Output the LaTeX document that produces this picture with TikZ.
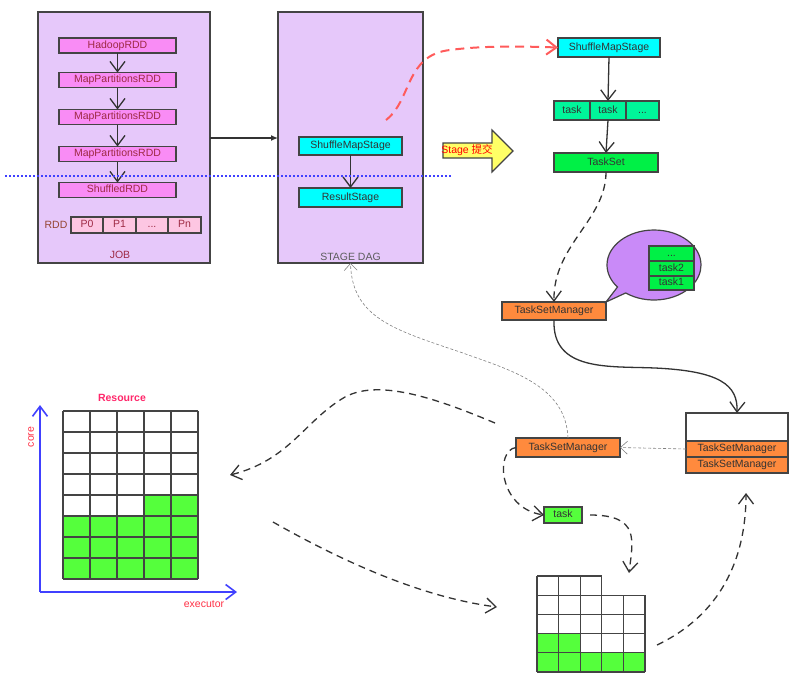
\documentclass[tikz,border=0pt]{standalone}
\usepackage{fontspec}
\setmainfont{Liberation Sans}
\newfontfamily\cjkfont{Noto Sans CJK SC}
\usepackage{xcolor}
\usetikzlibrary{arrows.meta,positioning,shapes.geometric,shapes.callouts}

\definecolor{edge}{HTML}{444444}
\definecolor{darktext}{HTML}{333333}
\definecolor{jobfill}{HTML}{E6C8FA}
\definecolor{rddfill}{HTML}{F98CF5}
\definecolor{rddtext}{HTML}{9E2A44}
\definecolor{partfill}{HTML}{FDC6E2}
\definecolor{stagefill}{HTML}{00FFFF}
\definecolor{taskfill}{HTML}{00F59A}
\definecolor{setfill}{HTML}{00F046}
\definecolor{tsmfill}{HTML}{FF8A3D}
\definecolor{bubblefill}{HTML}{C98AF8}
\definecolor{slotfill}{HTML}{55FF3C}
\definecolor{axisblue}{HTML}{4040FF}
\definecolor{labelred}{HTML}{FF3045}
\definecolor{dashred}{HTML}{FF5B5B}
\definecolor{arrowyellow}{HTML}{FFFF66}

\tikzset{
  box/.style={draw=edge, line width=1.2pt, inner sep=0pt, outer sep=0pt, text=darktext,
    font=\fontsize{10.5}{12}\selectfont, text height=7.6pt, text depth=2.2pt},
  bigbox/.style={box, fill=jobfill, minimum width=172pt, minimum height=251pt},
  rdd/.style={box, fill=rddfill, text=rddtext, minimum width=117pt, minimum height=15pt},
  part/.style={box, fill=partfill, text=rddtext, minimum height=16pt},
  stage/.style={box, fill=stagefill, minimum width=103pt, minimum height=18pt},
  tsm/.style={box, fill=tsmfill, minimum width=104pt, minimum height=18pt},
  tasknode/.style={box, fill=taskfill, minimum height=19pt},
  greenbox/.style={box, fill=setfill},
  lbl/.style={inner sep=0pt, font=\fontsize{10.5}{12}\selectfont},
  vtip/.style={-{Straight Barb[length=10pt,width=15pt]}},
  flow/.style={vtip, line width=1.3pt, draw=darktext},
  dflow/.style={vtip, line width=1.3pt, draw=darktext, dash pattern=on 7pt off 5pt},
  thin gray/.style={-{Straight Barb[length=7pt,width=13pt]}, line width=0.6pt, draw=gray, dash pattern=on 3pt off 2pt},
  cell/.style={draw=edge, line width=1.3pt},
}

\begin{document}
\begin{tikzpicture}[x=1pt,y=-1pt]
	\useasboundingbox (0,0) rectangle (800,673);
	% JOB
	\node[bigbox] (job) at (124,137.5) {};
	\node[lbl, text=rddtext] (joblbl) at (120,255) {JOB};
	\node[rdd] (hadoop) at (117.5,45.5) {HadoopRDD};
	\node[rdd] (mapA) at (117.5,80) {MapPartitionsRDD};
	\node[rdd] (mapB) at (117.5,117) {MapPartitionsRDD};
	\node[rdd] (mapC) at (117.5,154) {MapPartitionsRDD};
	\node[rdd] (shuffled) at (117.5,190) {ShuffledRDD};
	\draw[flow] (hadoop.south) -- (mapA.north);
	\draw[flow] (mapA.south) -- (mapB.north);
	\draw[flow] (mapB.south) -- (mapC.north);
	\draw[flow] (mapC.south) -- (shuffled.north);
	\node[lbl, text=rddtext!70!olive] (rddlbl) at (56,225) {RDD};
	\node[part, minimum width=32pt] (p0) at (87,225) {P0};
	\node[part, minimum width=33pt, right=0pt of p0] (p1) {P1};
	\node[part, minimum width=32pt, right=0pt of p1] (pdots) {...};
	\node[part, minimum width=33pt, right=0pt of pdots] (pn) {Pn};

	% STAGE DAG
	\node[bigbox, minimum width=145pt] (dag) at (350.5,137.5) {};
	\node[lbl, text=darktext!80] (daglbl) at (350.5,257) {STAGE DAG};
	\node[stage] (smsA) at (350.5,146) {ShuffleMapStage};
	\node[stage, minimum height=19pt] (result) at (350.5,197.5) {ResultStage};
	\draw[flow] (smsA.south) -- (result.north);
	\draw[-{Latex[length=7pt,width=6pt]}, line width=1.3pt, draw=darktext] (job.east |- 0,138) -- (dag.west |- 0,138);

	% shuffle boundary
	\draw[axisblue, line width=1.3pt, dash pattern=on 1.5pt off 2.5pt] (5,176) -- (453,176);

	% submitted stage
	\node[stage, minimum width=102pt, minimum height=19pt] (smsB) at (609,47.5) {ShuffleMapStage};
	\draw[vtip, dashred, line width=2pt, dash pattern=on 9pt off 6pt]
		(386,120) .. controls (412,100) and (405,55) .. (450,50)
		.. controls (480,46) and (515,46) .. (smsB.west);
	\node[tasknode, minimum width=36pt] (taskA) at (572,110.5) {task};
	\node[tasknode, minimum width=36pt, right=0pt of taskA] (taskB) {task};
	\node[tasknode, minimum width=33pt, right=0pt of taskB] (taskC) {...};
	\draw[flow] (smsB.south) -- (taskB.north);
	\node[greenbox, minimum width=104pt, minimum height=19pt] (taskset) at (606,162.5) {TaskSet};
	\draw[flow] (taskB.south) -- (taskset.north);
	\draw[draw=edge, fill=arrowyellow, line width=1.2pt]
		(443,143) -- (492,143) -- (492,130) -- (513,151) -- (492,172) -- (492,158) -- (443,158) -- cycle;
	\node[lbl, text=red] (submit) at (467,150.5) {Stage \cjkfont 提交};

	% TaskSetManager
	\node[tsm] (tsmA) at (554,311) {TaskSetManager};
	\draw[dflow] (taskset.south) .. controls (606,220) and (553,245) .. (tsmA.north);
	\node[ellipse callout, draw=edge, line width=1.2pt, fill=bubblefill,
		minimum width=94pt, minimum height=70pt, callout pointer arc=14,
		callout absolute pointer={(tsmA.north east)}] (bubble) at (654,265) {};
	\node[greenbox, minimum width=45pt, minimum height=15pt] (bdots) at (671.5,253.5) {...};
	\node[greenbox, minimum width=45pt, minimum height=15pt, below=0pt of bdots] (btaskB) {task2};
	\node[greenbox, minimum width=45pt, minimum height=14pt, below=0pt of btaskB] (btaskA) {task1};

	% pool
	\node[box, fill=white, minimum width=102pt, minimum height=28pt] (pool) at (737,427) {};
	\node[tsm, minimum width=102pt, minimum height=16pt, below=0pt of pool] (poolA) {TaskSetManager};
	\node[tsm, minimum width=102pt, minimum height=16pt, below=0pt of poolA] (poolB) {TaskSetManager};
	\draw[flow] (tsmA.south) .. controls (552,372) and (610,366) .. (655,368)
		.. controls (720,371) and (738,385) .. (pool.north);

	\node[tsm, minimum height=19pt] (tsmB) at (568,447.5) {TaskSetManager};
	\draw[thin gray] (poolA.west) -- (tsmB.east);
	\draw[thin gray] (tsmB.north) .. controls (566,385) and (510,370) .. (460,352)
		.. controls (395,330) and (352,318) .. (dag.south);
	\node[box, fill=slotfill, minimum width=38pt, minimum height=16pt] (task) at (563,515) {task};
	\draw[dflow] (tsmB.west) .. controls (495,450) and (498,508) .. (task.west);

	% Resource
	\node[lbl, text=labelred!80!magenta, font=\fontsize{10.5}{12}\selectfont\bfseries] (resource) at (122,398) {Resource};
	\fill[slotfill] (63,516) rectangle (198,579);
	\fill[slotfill] (144,495) rectangle (198,516);
	\foreach \i in {0,...,5}
		\draw[cell] (63+27*\i,411) -- (63+27*\i,579);
	\foreach \j in {0,...,8}
		\draw[cell] (63,411+21*\j) -- (198,411+21*\j);
	\coordinate (origin) at (40,592);
	\coordinate (coretop) at (40,405);
	\coordinate (execend) at (237,592);
	\draw[vtip, axisblue, line width=1.6pt] (origin) -- (coretop);
	\draw[vtip, axisblue, line width=1.6pt] (origin) -- (execend);
	\node[lbl, text=labelred, rotate=90] (core) at (31,437) {core};
	\node[lbl, text=labelred] (executor) at (204,604) {executor};

	% executor slots
	\fill[slotfill] (537,633.6) rectangle (580.2,672);
	\fill[slotfill] (580.2,652.8) rectangle (645,672);
	\foreach \x in {537,558.6,580.2,601.8}
		\draw[cell] (\x,576) -- (\x,672);
	\foreach \x in {623.4,645}
		\draw[cell] (\x,595.2) -- (\x,672);
	\draw[cell] (537,576) -- (601.8,576);
	\foreach \y in {595.2,614.4,633.6,652.8,672}
		\draw[cell] (537,\y) -- (645,\y);

	% scheduling loop
	\coordinate (offerstart) at (495,423);
	\coordinate (offerend) at (230,475);
	\coordinate (launchstart) at (273,522);
	\coordinate (launchend) at (497,607);
	\coordinate (slotin) at (629,573);
	\coordinate (slotout) at (657,645);
	\coordinate (poolin) at (746,493);
	\draw[dflow] (offerstart) .. controls (440,400) and (380,378) .. (345,397)
		.. controls (305,420) and (290,460) .. (offerend);
	\draw[dflow] (launchstart) .. controls (340,560) and (420,597) .. (launchend);
	\draw[dflow, shorten <=8pt] (task.east) .. controls (640,515) and (633,540) .. (slotin);
	\draw[dflow] (slotout) .. controls (720,615) and (746,560) .. (poolin);
\end{tikzpicture}
\end{document}
